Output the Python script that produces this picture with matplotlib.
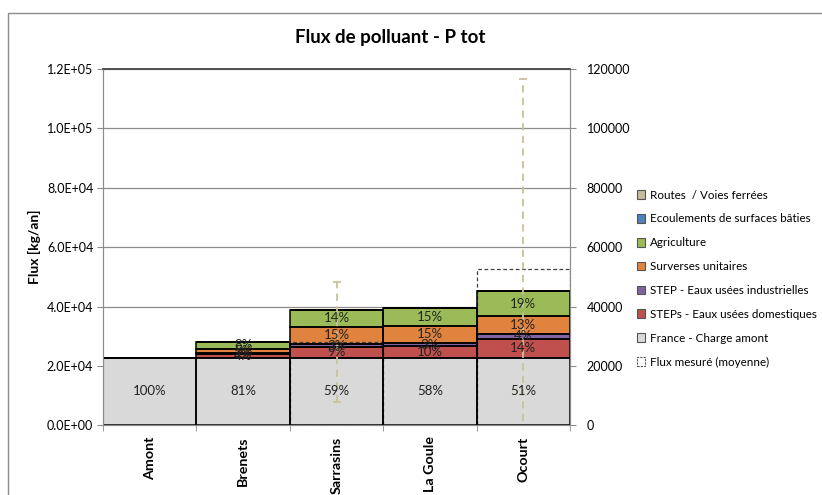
import matplotlib
matplotlib.use('Agg')
import matplotlib.pyplot as plt
import matplotlib.patches as mpatches
from matplotlib.ticker import FuncFormatter, MultipleLocator, FixedLocator
import numpy as np

plt.rcParams['font.family'] = ['Lato', 'DejaVu Sans']

# données (kg/an)
stations = ['Amont', 'Brenets', 'Sarrasins', 'La Goule', 'Ocourt']
france_amont = [22800, 22800, 22800, 22800, 22800]
steps_dom = [0, 1150, 3480, 3800, 6300]
step_ind = [0, 350, 1000, 1200, 1700]
surverses = [0, 1450, 5950, 5800, 5900]
agriculture = [0, 2300, 5500, 5800, 8400]
ecoulements = [0, 0, 0, 0, 0]
routes = [0, 0, 0, 0, 0]
flux_mesure = [np.nan, np.nan, 28050, np.nan, 52640]
flux_ecart = [np.nan, np.nan, 20300, np.nan, 63900]

couches = [
    ('France - Charge amont', france_amont, '#d9d9d9'),
    ('STEPs - Eaux usées domestiques', steps_dom, '#c0504d'),
    ('STEP - Eaux usées industrielles', step_ind, '#8064a2'),
    ('Surverses unitaires', surverses, '#e0833e'),
    ('Agriculture', agriculture, '#9bbb59'),
    ('Ecoulements de surfaces bâties', ecoulements, '#4f81bd'),
    ('Routes  / Voies ferrées', routes, '#c4bd97'),
]

fig = plt.figure(figsize=(8.22, 4.95), dpi=100)
ax = fig.add_axes([103 / 822, 1 - 425.3 / 495, 467 / 822, 356.3 / 495])
ax2 = ax.twinx()

x = np.arange(len(stations))
totaux = np.sum([c[1] for c in couches], axis=0)

bas = np.zeros(len(stations))
for nom, vals, coul in couches:
    vals = np.array(vals, dtype=float)
    # remplissage puis contour noir par-dessus le cadre pointillé
    ax.bar(x, vals, width=1.0, bottom=bas, color=coul, linewidth=0, zorder=2)
    ax.bar(x, vals, width=1.0, bottom=bas, fill=False, edgecolor='black',
           linewidth=1.1, zorder=2.6)
    for i, v in enumerate(vals):
        if v > 0:
            ax.text(x[i], bas[i] + v / 2, f"{v / totaux[i]:.0%}", ha='center',
                    va='center', fontsize=9.5, color='#222222', zorder=4)
    bas += vals

# flux mesuré (même échelle que l'axe secondaire)
ax.bar(x, flux_mesure, width=1.0, fill=False, edgecolor='#404040',
       linestyle=(0, (3, 2)), linewidth=0.9, zorder=2.5)
eb = ax.errorbar(x, flux_mesure, yerr=flux_ecart, fmt='none',
                 ecolor='#c8c29c', elinewidth=1.3, capsize=3, capthick=1.3,
                 zorder=3)
eb[2][0].set_linestyle((0, (4, 3)))

ax.set_xlim(-0.5, len(stations) - 0.5)
ax.set_ylim(0, 120000)
ax2.set_ylim(0, 120000)
ax.yaxis.set_major_locator(MultipleLocator(20000))
ax2.yaxis.set_major_locator(MultipleLocator(20000))
ax.yaxis.set_major_formatter(FuncFormatter(lambda v, p: f"{v:.1E}"))
ax2.yaxis.set_major_formatter(FuncFormatter(lambda v, p: f"{v:.0f}"))
ax.grid(axis='y', color='#8c8c8c', linewidth=0.9, zorder=0)
ax.set_axisbelow(True)

ax.set_xticks(x)
ax.set_xticklabels(stations, rotation=90, fontweight='bold', fontsize=10.3)
ax.xaxis.set_minor_locator(FixedLocator(np.arange(-0.5, len(stations), 1.0)))
ax.tick_params(axis='x', which='major', length=0, pad=8)
ax.tick_params(axis='x', which='minor', length=4, color='#8c8c8c')
ax.tick_params(axis='y', length=4, color='#8c8c8c', labelsize=9, pad=3)
ax2.tick_params(axis='y', length=4, color='#8c8c8c', labelsize=9, pad=8)

for a in (ax, ax2):
    for s in ('left', 'right', 'bottom'):
        a.spines[s].set_color('#8c8c8c')
    a.spines['top'].set_color('#505050')
    a.spines['top'].set_linewidth(1.2)

ax.set_ylabel('Flux [kg/an]', fontweight='bold', fontsize=10, labelpad=4)

fig.text(390 / 822, 1 - 37 / 495, 'Flux de polluant - P tot', ha='center',
         va='center', fontsize=13.5, fontweight='bold')

# légende
poignees = [mpatches.Patch(facecolor=c, edgecolor='#555555', linewidth=0.8, label=n)
            for n, v, c in couches[::-1]]
poignees.append(mpatches.Patch(facecolor='none', edgecolor='#555555',
                               linestyle=(0, (2, 1)), linewidth=0.8,
                               label='Flux mesuré (moyenne)'))
fig.legend(handles=poignees, loc='upper left', bbox_to_anchor=(632 / 822, 1 - 185 / 495),
           frameon=False, fontsize=8.4, handlelength=0.75, handleheight=0.75,
           handletextpad=0.4, labelspacing=1.1, borderaxespad=0)

# cadre du graphique
fig.patches.append(mpatches.Rectangle((8 / 822, -0.05), 1.2, 1 - 13 / 495 + 0.05,
                                      transform=fig.transFigure, fill=False,
                                      edgecolor='#8c8c8c', linewidth=1.0))

fig.savefig('out.png', dpi=100)
